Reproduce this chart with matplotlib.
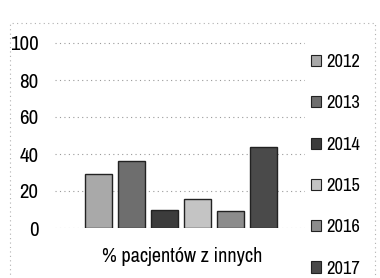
import matplotlib
matplotlib.use("Agg")
import matplotlib.pyplot as plt
from matplotlib.patches import Rectangle
from matplotlib import font_manager

years = ["2012", "2013", "2014", "2015", "2016", "2017"]
values = [29, 36, 10, 15.5, 9, 44]
colors = ["#a9a9a9", "#6e6e6e", "#3c3c3c", "#c4c4c4", "#8c8c8c", "#4a4a4a"]
yticks = [0, 20, 40, 60, 80, 100]
xlabel_lines = ["% pacjentów z innych", "szpitali"]

names = {f.name for f in font_manager.fontManager.ttflist}
fam = "DejaVu Sans"
for cand in ["Liberation Sans Narrow", "Arimo Narrow", "Archivo Narrow",
             "Roboto Condensed", "Encode Sans Condensed"]:
    if cand in names:
        fam = cand
        break
plt.rcParams["font.family"] = [fam, "DejaVu Sans"]

W, H = 380, 278
fig = plt.figure(figsize=(W / 100, H / 100), dpi=100)
fig.patch.set_facecolor("white")

def px(x0, y0, x1, y1):
    return [x0 / W, 1 - y1 / H, (x1 - x0) / W, (y1 - y0) / H]

ax = fig.add_axes(px(55, 24.5, 305, 228))
xs = list(range(len(years)))
ax.bar(xs, values, width=0.82, color=colors, edgecolor="#222222",
       linewidth=1.0, zorder=3)
ax.set_xlim(-1.32, 6.26)
ax.set_ylim(0, 110)
ax.set_yticks(yticks)
ax.set_yticklabels([str(t) for t in yticks], fontsize=15)
ax.tick_params(axis="y", length=0, pad=12)
ax.set_xticks([])
for s in ax.spines.values():
    s.set_visible(False)
for t in yticks:
    ax.axhline(t, color="#9a9a9a", linestyle=(0, (1, 3)), linewidth=0.8, zorder=1)

# dotted outer frame
fig.add_artist(Rectangle((10 / W, -0.02), 365 / W, (H - 23) / H + 0.02,
                         transform=fig.transFigure, fill=False,
                         edgecolor="#b0b0b0", linestyle=(0, (1, 3)), linewidth=0.8))

fig.text(182 / W, 1 - 257 / H, xlabel_lines[0], ha="center", va="center",
         fontsize=14.6)
fig.text(182 / W, 1 - 288 / H, xlabel_lines[1], ha="center", va="center",
         fontsize=14.6)

handles = [Rectangle((0, 0), 1, 1, facecolor=c, edgecolor="#222222", linewidth=0.8)
           for c in colors]
fig.legend(handles, years, loc="upper left",
           bbox_to_anchor=(311 / W, 1 - 54 / H), bbox_transform=fig.transFigure,
           frameon=False, fontsize=13.3, handlelength=0.55, handleheight=0.55,
           handletextpad=0.3, labelspacing=1.37, borderpad=0, borderaxespad=0)

fig.savefig("out.png", dpi=100, facecolor="white")
